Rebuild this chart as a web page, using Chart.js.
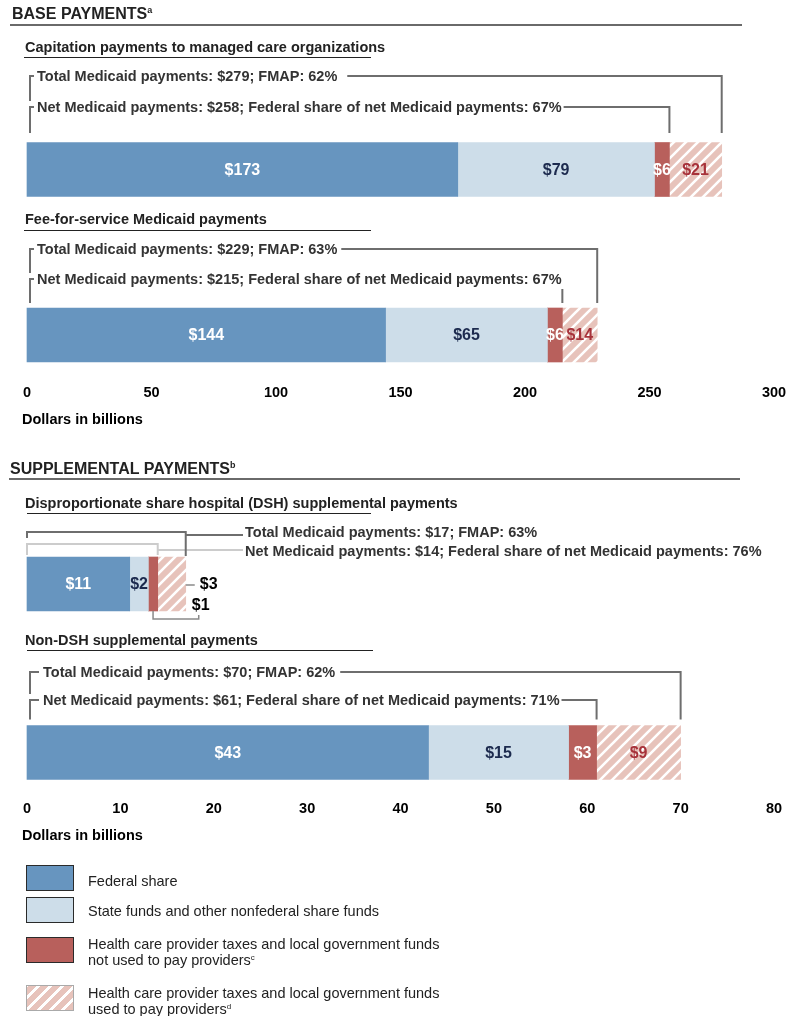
<!DOCTYPE html>
<html><head><meta charset="utf-8">
<script src="https://cdn.jsdelivr.net/npm/chart.js@4.4.1/dist/chart.umd.min.js"></script>
<style>
body{margin:0;background:#fff;font-family:"Liberation Sans",Arial,Helvetica,sans-serif;}
#page{position:relative;width:792px;height:1016px;overflow:hidden;background:#fff;}
canvas{position:absolute;left:0;top:0;}
.t{position:absolute;white-space:nowrap;line-height:1;color:#222;}
.h{font-size:16px;font-weight:bold;}
.s{font-size:14.5px;font-weight:bold;}
.ax{font-size:14.5px;font-weight:bold;color:#000;}
.rule{position:absolute;height:2px;background:#6a6a6a;}
.ul{position:absolute;height:1px;background:#222;}
.sup{font-size:9px;position:relative;top:-6px;}
.lsup{font-size:8px;position:relative;top:-5px;}
.lb{position:absolute;left:26px;width:46px;height:24px;border:1px solid #2a2a2a;}
.lt{position:absolute;left:88px;width:365px;font-size:14.5px;line-height:16px;color:#222;}
</style></head><body><div id="page">
<canvas id="c1" width="792" height="440" style="width:792px;height:440px"></canvas>
<canvas id="c2" width="792" height="850" style="width:792px;height:850px"></canvas>
<div class="t h" style="left:12px;top:5.5px">BASE PAYMENTS<span class="sup">a</span></div>
<div class="rule" style="left:10px;top:24px;width:732px"></div>
<div class="t ax" style="left:22px;top:411.5px">Dollars in billions</div>
<div class="t h" style="left:10px;top:460.5px">SUPPLEMENTAL PAYMENTS<span class="sup">b</span></div>
<div class="rule" style="left:9px;top:478px;width:731px"></div>
<div class="t ax" style="left:22px;top:827.5px">Dollars in billions</div>
<div id="legend"></div>
</div>
<script>
// ---------- DATA ----------
const seriesNames = ['Federal share', 'State funds and other nonfederal share funds',
  'Health care provider taxes and local government funds not used to pay providers',
  'Health care provider taxes and local government funds used to pay providers'];
const seriesNotes = ['', '', 'c', 'd'];

const baseCategories = ['Capitation payments to managed care organizations', 'Fee-for-service Medicaid payments'];
const baseFederal = [173, 144];
const baseState = [79, 65];
const baseTaxesNotUsed = [6, 6];
const baseTaxesUsed = [21, 14];
const baseTotal = [279, 229];
const baseFmap = [62, 63];
const baseNet = [258, 215];
const baseNetFederalShare = [67, 67];
const baseTicks = [0, 50, 100, 150, 200, 250, 300];

const suppCategories = ['Disproportionate share hospital (DSH) supplemental payments', 'Non-DSH supplemental payments'];
const suppFederal = [11, 43];
const suppState = [2, 15];
const suppTaxesNotUsed = [1, 3];
const suppTaxesUsed = [3, 9];
const suppTotal = [17, 70];
const suppFmap = [63, 62];
const suppNet = [14, 61];
const suppNetFederalShare = [76, 71];
const suppTicks = [0, 10, 20, 30, 40, 50, 60, 70, 80];

// ---------- STYLE ----------
const FONT = '"Liberation Sans", Arial, sans-serif';
const COL = {fed:'#6795bf', state:'#cddde9', red:'#b8605c', pink:'#e7c3bb'};
const LABEL_COL = ['#ffffff', '#1c2a4e', '#ffffff', '#a7323a'];

function hatchPattern(){
  const c = document.createElement('canvas'); c.width = 12; c.height = 12;
  const g = c.getContext('2d');
  g.fillStyle = COL.pink; g.fillRect(0,0,12,12);
  g.strokeStyle = '#ffffff'; g.lineWidth = 2.6;
  g.beginPath();
  g.moveTo(-3,15); g.lineTo(15,-3);
  g.moveTo(-3,3); g.lineTo(3,-3);
  g.moveTo(9,15); g.lineTo(15,9);
  g.stroke();
  return document.getElementById('c1').getContext('2d').createPattern(c,'repeat');
}
const HATCH = hatchPattern();

function makeDatasets(fed, st, notUsed, used){
  const fills = [COL.fed, COL.state, COL.red, HATCH];
  return [fed, st, notUsed, used].map((d,i)=>({
    label: seriesNames[i], data: d, backgroundColor: fills[i], labelColor: LABEL_COL[i],
    borderWidth: 0, barThickness: 54, clip: false
  }));
}

function stdBracket(ctx, xs, top, L, total, fmap, net, share){
  const xT = xs.getPixelForValue(total), xN = xs.getPixelForValue(net);
  const yT = top + L.totalDy, yN = top + L.netDy, yB = top - L.gap;
  ctx.font = 'bold 14.5px ' + FONT; ctx.fillStyle = '#333'; ctx.textAlign = 'left'; ctx.textBaseline = 'middle';
  const tTxt = 'Total Medicaid payments: $' + total + '; FMAP: ' + fmap + '%';
  const nTxt = 'Net Medicaid payments: $' + net + '; Federal share of net Medicaid payments: ' + share + '%';
  ctx.fillText(tTxt, L.textX, yT);
  ctx.fillText(nTxt, L.textX, yN);
  const wT = ctx.measureText(tTxt).width, wN = ctx.measureText(nTxt).width;
  ctx.strokeStyle = '#6e6e6e'; ctx.lineWidth = 2; ctx.lineJoin = 'miter'; ctx.lineCap = 'butt';
  ctx.beginPath();
  ctx.moveTo(L.leftX + L.tick, yT - 1); ctx.lineTo(L.leftX, yT - 1); ctx.lineTo(L.leftX, yN - 7);
  ctx.moveTo(L.leftX + L.tick, yN - 1); ctx.lineTo(L.leftX, yN - 1); ctx.lineTo(L.leftX, yB);
  ctx.moveTo(L.textX + wT + L.totalGap, yT - 1); ctx.lineTo(xT, yT - 1); ctx.lineTo(xT, yB);
  if (L.textX + wN + 3 < xN) {
    ctx.moveTo(L.textX + wN + 2, yN - 1); ctx.lineTo(xN, yN - 1); ctx.lineTo(xN, yB);
  } else {
    ctx.moveTo(xN, yN + 9); ctx.lineTo(xN, yB);
  }
  ctx.stroke();
}

function dshBracket(ctx, xs, top, bottom, L, total, fmap, net, share){
  const x0 = xs.getPixelForValue(0), xT = xs.getPixelForValue(total), xN = xs.getPixelForValue(net);
  ctx.lineJoin = 'miter'; ctx.lineCap = 'butt'; ctx.lineWidth = 2;
  ctx.strokeStyle = '#cccccc';
  ctx.beginPath();
  ctx.moveTo(x0, top - 2); ctx.lineTo(x0, top - 13); ctx.lineTo(xN, top - 13); ctx.lineTo(xN, top - 2);
  ctx.moveTo(xN, top - 7); ctx.lineTo(L.textX - 2, top - 7);
  ctx.stroke();
  ctx.strokeStyle = '#6e6e6e';
  ctx.beginPath();
  ctx.moveTo(x0, top - 19); ctx.lineTo(x0, top - 25); ctx.lineTo(xT, top - 25); ctx.lineTo(xT, top - 1);
  ctx.moveTo(xT, top - 22); ctx.lineTo(L.textX - 2, top - 22);
  ctx.stroke();
  ctx.font = 'bold 14.5px ' + FONT; ctx.fillStyle = '#333'; ctx.textAlign = 'left'; ctx.textBaseline = 'middle';
  ctx.fillText('Total Medicaid payments: $' + total + '; FMAP: ' + fmap + '%', L.textX, top - 24);
  ctx.fillText('Net Medicaid payments: $' + net + '; Federal share of net Medicaid payments: ' + share + '%', L.textX, top - 5);
}

function makeAnnot(cfg){
  return {
    id: 'annot_' + cfg.name,
    afterDatasetsDraw(chart){
      const ctx = chart.ctx, xs = chart.scales.x;
      ctx.save();
      const dss = chart.data.datasets;
      dss.forEach((ds, i) => {
        chart.getDatasetMeta(i).data.forEach((el, j) => {
          const p = el.getProps(['x','y','base','height'], true);
          const outside = cfg.outside[j] && cfg.outside[j].includes(i);
          ctx.font = 'bold 16px ' + FONT; ctx.textBaseline = 'middle';
          if (!outside) {
            ctx.fillStyle = ds.labelColor; ctx.textAlign = 'center';
            ctx.fillText('$' + ds.data[j], (p.x + p.base) / 2, p.y + 1);
          }
        });
      });
      cfg.totals.forEach((total, j) => {
        const el = chart.getDatasetMeta(0).data[j];
        const p = el.getProps(['y','height'], true);
        const top = p.y - p.height / 2, bottom = p.y + p.height / 2;
        const L = cfg.layouts[j];
        if (L.type === 'dsh') {
          dshBracket(ctx, xs, top, bottom, L, total, cfg.fmap[j], cfg.net[j], cfg.share[j]);
          const xT = xs.getPixelForValue(total);
          const redEl = chart.getDatasetMeta(2).data[j].getProps(['x','base'], true);
          ctx.strokeStyle = '#8a8a8a'; ctx.lineWidth = 1.5;
          ctx.beginPath();
          ctx.moveTo(xT, p.y + 1); ctx.lineTo(xT + 9, p.y + 1);
          const xr = (redEl.x + redEl.base) / 2;
          ctx.moveTo(xr, bottom); ctx.lineTo(xr, bottom + 8); ctx.lineTo(xT + 13, bottom + 8); ctx.lineTo(xT + 13, bottom + 4);
          ctx.stroke();
          ctx.font = 'bold 16px ' + FONT; ctx.fillStyle = '#000'; ctx.textAlign = 'left'; ctx.textBaseline = 'middle';
          ctx.fillText('$' + dss[3].data[j], xT + 14, p.y + 1);
          ctx.fillText('$' + dss[2].data[j], xT + 6, bottom - 5);
        } else {
          stdBracket(ctx, xs, top, L, total, cfg.fmap[j], cfg.net[j], cfg.share[j]);
        }
      });
      ctx.restore();
    }
  };
}

function makeChart(id, cats, datasets, ticks, padding, cfg){
  return new Chart(document.getElementById(id), {
    type: 'bar',
    data: {labels: cats, datasets: datasets},
    options: {
      indexAxis: 'y', responsive: false, animation: false, devicePixelRatio: 1,
      layout: {padding: padding},
      plugins: {legend: {display: false}, tooltip: {enabled: false}},
      scales: {
        y: {type: 'category', stacked: true, display: false, offset: false},
        x: {type: 'linear', stacked: true, min: ticks[0], max: ticks[ticks.length - 1],
            afterBuildTicks: s => { s.ticks = ticks.map(v => ({value: v})); },
            afterFit: s => { s.paddingLeft = 0; s.paddingRight = 0; s.height = cfg.axisHeight; },
            grid: {display: false, drawTicks: false}, border: {display: false},
            ticks: {padding: cfg.tickPad, color: '#000', maxRotation: 0, minRotation: 0, autoSkip: false,
                    font: {family: FONT, size: 14.5, weight: 'bold'}}}
      }
    },
    plugins: [makeAnnot(cfg)]
  });
}

makeChart('c1', baseCategories, makeDatasets(baseFederal, baseState, baseTaxesNotUsed, baseTaxesUsed), baseTicks,
  {left: 27, right: 18, top: 169.5, bottom: 0},
  {name: 'base', tickPad: 49.5, axisHeight: 105, outside: {}, totals: baseTotal, fmap: baseFmap, net: baseNet, share: baseNetFederalShare,
   layouts: [
     {totalDy: -65.5, netDy: -34.5, gap: 9.5, leftX: 30, tick: 4, textX: 37, totalGap: 10},
     {totalDy: -58, netDy: -28, gap: 5, leftX: 30, tick: 4, textX: 37, totalGap: 4}
   ]});

makeChart('c2', suppCategories, makeDatasets(suppFederal, suppState, suppTaxesNotUsed, suppTaxesUsed), suppTicks,
  {left: 27, right: 18, top: 584, bottom: 0},
  {name: 'supp', tickPad: 48, axisHeight: 97.5, outside: {0: [2, 3]}, totals: suppTotal, fmap: suppFmap, net: suppNet, share: suppNetFederalShare,
   layouts: [
     {type: 'dsh', textX: 245},
     {totalDy: -52.5, netDy: -24.5, gap: 6, leftX: 30, tick: 9, textX: 43, totalGap: 5}
   ]});

// ---------- subtitles & legend (HTML text) ----------
const page = document.getElementById('page');
function addDiv(cls, style, html){
  const d = document.createElement('div'); d.className = cls; d.setAttribute('style', style); d.innerHTML = html; page.appendChild(d); return d;
}
const subPos = [
  {cat: baseCategories[0], top: 40, ul: 57, l: 24, r: 371},
  {cat: baseCategories[1], top: 212, ul: 230, l: 24, r: 371},
  {cat: suppCategories[0], top: 495.7, ul: 513, l: 27, r: 371},
  {cat: suppCategories[1], top: 632.7, ul: 650, l: 27, r: 373}
];
subPos.forEach(s => {
  addDiv('t s', 'left:25px;top:' + s.top + 'px', s.cat);
  addDiv('ul', 'left:' + s.l + 'px;top:' + s.ul + 'px;width:' + (s.r - s.l) + 'px', '');
});
const legBoxTop = [865, 897, 937, 985];
const legTextTop = [873, 903, 936, 985];
const legFill = [COL.fed, COL.state, COL.red,
  'repeating-linear-gradient(-45deg,' + COL.pink + ' 0 6px,#fff 6px 8.5px)'];
seriesNames.forEach((n, i) => {
  addDiv('lb', 'top:' + legBoxTop[i] + 'px;background:' + legFill[i] + (i === 3 ? ';border-color:#aaa' : ''), '');
  addDiv('lt', 'top:' + legTextTop[i] + 'px', n + (seriesNotes[i] ? '<span class="lsup">' + seriesNotes[i] + '</span>' : ''));
});
</script>
</body></html>
